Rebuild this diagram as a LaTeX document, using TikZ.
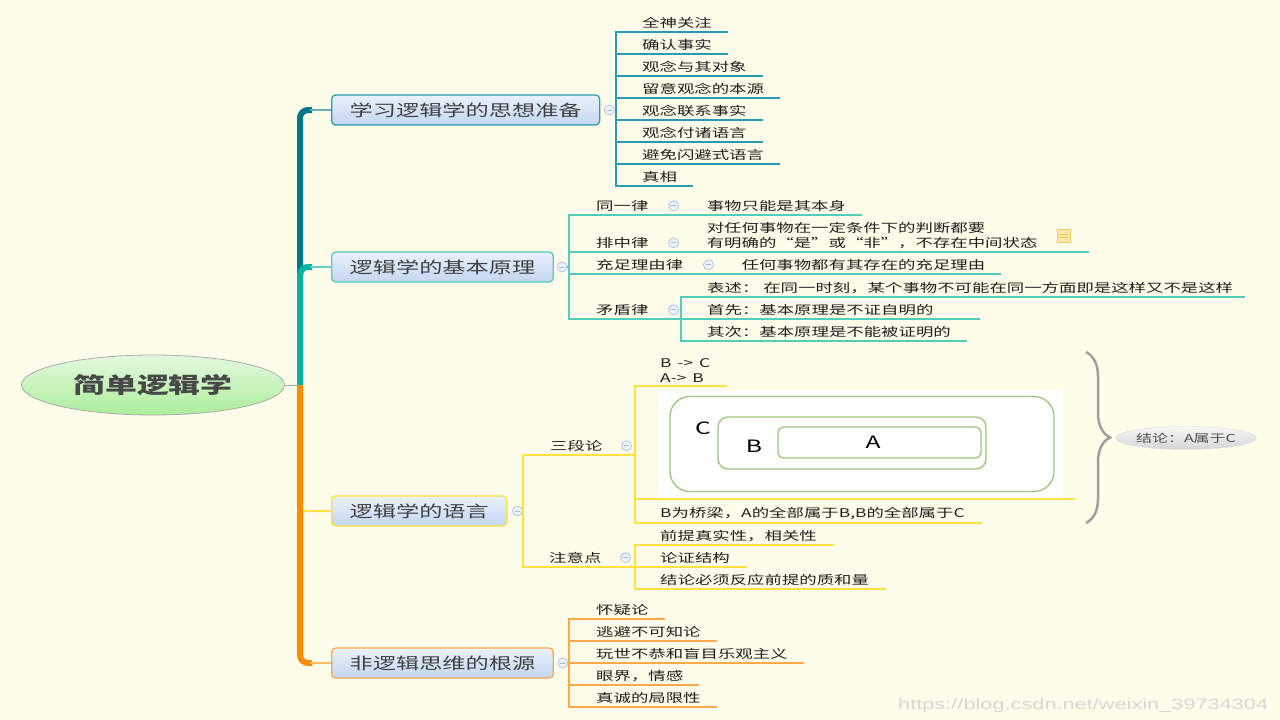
\documentclass[tikz,border=0pt]{standalone}
\usepackage{fontspec}
\setmainfont{Noto Sans CJK SC}[FakeStretch=1.45]
\newfontfamily\wmfont{Liberation Sans}[FakeStretch=1.45]
\usetikzlibrary{shapes.geometric}
\usetikzlibrary{decorations.pathreplacing}

\definecolor{bg}{HTML}{FEFDE9}
\definecolor{tealA}{HTML}{00788A}
\definecolor{tealB}{HTML}{00B39F}
\definecolor{orangeT}{HTML}{FF8C00}
\definecolor{lineA}{HTML}{2A9BB0}
\definecolor{lineB}{HTML}{55CBBA}
\definecolor{lineC}{HTML}{FFE23F}
\definecolor{lineD}{HTML}{FFA94D}
\definecolor{topicTop}{HTML}{EAF2FB}
\definecolor{topicBot}{HTML}{C3D6F0}
\definecolor{rootTop}{HTML}{E6F8E0}
\definecolor{rootBot}{HTML}{ABEE9B}
\definecolor{ink}{HTML}{1E1E1E}
\definecolor{vennG}{HTML}{9CC67E}
\definecolor{foldC}{HTML}{A8B8D8}
\definecolor{noteF}{HTML}{FCE6A6}
\definecolor{noteD}{HTML}{F2C868}
\definecolor{wmark}{HTML}{D6D6D6}

\begin{document}
\begin{tikzpicture}[x=1pt,y=-1pt,
    topic/.style={rounded corners=4pt,line width=1.3pt,top color=topicTop,bottom color=topicBot,
      minimum height=30pt,inner xsep=18pt,anchor=west,text=black!75,font=\fontsize{16}{16}\selectfont},
    leaf/.style={anchor=south west,inner xsep=0pt,inner ysep=3.5pt,align=left,text=ink,
      font=\fontsize{12}{14.5}\selectfont},
    fold/.style={circle,draw=foldC,fill=topicTop,minimum size=10pt,inner sep=0pt,line width=0.6pt,
      path picture={\draw[foldC,line width=0.8pt] ([xshift=-2.5pt]path picture bounding box.center)
        -- ([xshift=2.5pt]path picture bounding box.center);}},
    elbow/.style={to path={|- (\tikztotarget)}},
    trunk/.style={line width=6pt,rounded corners=8pt},
    venn/.style={draw=vennG,line width=1.3pt,inner sep=0pt},
    noteicon/.style={draw=noteD,fill=noteF,minimum width=13pt,minimum height=13pt,inner sep=0pt,
      path picture={\draw[noteD,line width=0.8pt]
        ([xshift=2pt,yshift=1pt]path picture bounding box.west) -- ++(9pt,0)
        ([xshift=2pt,yshift=-2pt]path picture bounding box.west) -- ++(9pt,0);}}]
\fill[bg] (0,0) rectangle (1280,720);
\useasboundingbox (0,0) rectangle (1280,720);

% root and main topics
\node[ellipse,draw=gray!65,line width=0.8pt,top color=rootTop,bottom color=rootBot,
  minimum width=263pt,minimum height=60pt,text=black!72,
  font=\fontsize{22}{22}\selectfont\bfseries] (root) at (153,385) {简单逻辑学};
\node[topic,draw=lineA] (n1) at (331,110) {学习逻辑学的思想准备};
\node[topic,draw=lineB] (n2) at (331,267) {逻辑学的基本原理};
\node[topic,draw=lineC] (n3) at (331,511) {逻辑学的语言};
\node[topic,draw=lineD] (n4) at (331,663) {非逻辑思维的根源};

\node[fold] (f1) at ([xshift=9pt]n1.east) {};
\node[fold] (f2) at ([xshift=8pt]n2.east) {};
\node[fold] (f3) at ([xshift=10pt]n3.east) {};
\node[fold] (f4) at ([xshift=9pt]n4.east) {};

% trunk
\coordinate (j) at (300,385);
\draw[gray!65,line width=1pt] (root.east) -- (j);
\draw[trunk,tealA] (j) |- ([xshift=-19pt]n1.west);
\draw[tealA!60,line width=2pt] ([xshift=-21pt]n1.west) -- (n1.west);
\draw[trunk,tealB] (j) |- ([xshift=-19pt]n2.west);
\draw[tealB!60,line width=2pt] ([xshift=-21pt]n2.west) -- (n2.west);
\draw[lineC,line width=2pt,rounded corners=6pt] (j) |- (n3.west);
\draw[trunk,orangeT] (j) |- ([xshift=-19pt]n4.west);
\draw[orangeT!60,line width=2pt] ([xshift=-21pt]n4.west) -- (n4.west);

% branch 1
\coordinate (v1) at (616,110);
\node[leaf] (q11) at (642,32)  {全神关注};
\node[leaf] (q12) at (642,54)  {确认事实};
\node[leaf] (q13) at (642,76)  {观念与其对象};
\node[leaf] (q14) at (642,98)  {留意观念的本源};
\node[leaf] (q15) at (642,120) {观念联系事实};
\node[leaf] (q16) at (642,142) {观念付诸语言};
\node[leaf] (q17) at (642,164) {避免闪避式语言};
\node[leaf] (q18) at (642,186) {真相};
\path[draw,lineA,line width=1.2pt] (f1) -- (v1)
  (v1) edge[elbow] ([xshift=16pt]q11.south east)
  (v1) edge[elbow] ([xshift=16pt]q12.south east)
  (v1) edge[elbow] ([xshift=16pt]q13.south east)
  (v1) edge[elbow] ([xshift=16pt]q14.south east)
  (v1) edge[elbow] ([xshift=16pt]q15.south east)
  (v1) edge[elbow] ([xshift=16pt]q16.south east)
  (v1) edge[elbow] ([xshift=16pt]q17.south east)
  (v1) edge[elbow] ([xshift=16pt]q18.south east);

% branch 2
\coordinate (v2) at (569,267);
\node[leaf] (s21) at (596,215) {同一律};
\node[fold] (f21) at ([xshift=25pt]s21.east) {};
\node[leaf,xshift=33pt] (t21) at (f21 |- s21.south) {事物只能是其本身};
\node[leaf] (s22) at (596,252) {排中律};
\node[fold] (f22) at ([xshift=25pt]s22.east) {};
\node[leaf,xshift=33pt] (t22) at (f22 |- s22.south) {对任何事物在一定条件下的判断都要\\有明确的“是”或“非”，不存在中间状态};
\node[noteicon] (ic) at ([xshift=26pt]t22.east) {};
\node[leaf] (s23) at (596,274) {充足理由律};
\node[fold] (f23) at ([xshift=25pt]s23.east) {};
\node[leaf,xshift=33pt] (t23) at (f23 |- s23.south) {任何事物都有其存在的充足理由};
\node[leaf] (s24) at (596,319) {矛盾律};
\node[fold] (f24) at ([xshift=25pt]s24.east) {};
\coordinate (w24) at (681,319);
\node[leaf] (t24) at (707,297) {表述：\ 在同一时刻，某个事物不可能在同一方面即是这样又不是这样};
\node[leaf] (t25) at (707,319) {首先：基本原理是不证自明的};
\node[leaf] (t26) at (707,341) {其次：基本原理是不能被证明的};
\path[draw,lineB,line width=1.2pt] (f2) -- (v2)
  (v2) edge[elbow] ([xshift=16pt]t21.south east)
  (v2) edge[elbow] ([xshift=19pt]ic.east |- s22.south)
  (v2) edge[elbow] ([xshift=16pt]t23.south east)
  (v2) edge[elbow] (w24)
  (w24) edge[elbow] ([xshift=12pt]t24.south east)
  (w24) edge[elbow] ([xshift=46pt]t25.south east)
  (w24) edge[elbow] ([xshift=16pt]t26.south east);

% branch 3
\coordinate (v3) at (523,511);
\node[leaf] (s31) at (550,455) {三段论};
\node[fold] (f31) at ([xshift=24pt]s31.east) {};
\coordinate (w31) at (635,455);
\node[leaf] (t31) at (660,386) {B\kern2pt\ ->\ \kern2pt C\\A->\ \kern2pt B};
\node[fill=white,minimum width=403pt,minimum height=109pt,inner sep=0pt,anchor=south west] (img) at (659,499) {};
\node[leaf] (t33) at (660,523) {B为桥梁，A的全部属于B,B的全部属于C};
\node[venn,rounded corners=20pt,minimum width=384pt,minimum height=95pt] (gC) at (862,444) {};
\node[venn,rounded corners=10pt,minimum width=268pt,minimum height=52pt] (gB) at (852,443) {};
\node[venn,rounded corners=6pt,minimum width=203pt,minimum height=31pt] (gA) at (879.5,442.5) {};
\node[font=\fontsize{17}{17}\selectfont] (lC) at (703,428) {C};
\node[font=\fontsize{17}{17}\selectfont] (lB) at (754,446) {B};
\node[font=\fontsize{17}{17}\selectfont] (lA) at (873,442) {A};
\node[leaf] (s32) at (549,567) {注意点};
\node[fold] (f32) at ([xshift=24pt]s32.east) {};
\coordinate (w32) at (635,567);
\node[leaf] (t34) at (660,545) {前提真实性，相关性};
\node[leaf] (t35) at (660,567) {论证结构};
\node[leaf] (t36) at (660,589) {结论必须反应前提的质和量};
\path[draw,lineC,line width=1.2pt] (f3) -- (v3)
  (v3) edge[elbow] (w31)
  (v3) edge[elbow] (w32)
  (w31) edge[elbow] ([xshift=17pt]t31.south east)
  (w31) edge[elbow] ([xshift=13pt]img.south east)
  (w31) edge[elbow] ([xshift=17pt]t33.south east)
  (w32) edge[elbow] ([xshift=17pt]t34.south east)
  (w32) edge[elbow] ([xshift=17pt]t35.south east)
  (w32) edge[elbow] ([xshift=17pt]t36.south east);

% summary brace
\coordinate (br1) at (1086,352);
\coordinate (br2) at (1086,523);
\draw[gray!75,line width=2.5pt,decorate,decoration={brace,amplitude=24pt}] (br1) -- (br2);
\node[ellipse,draw=gray!25,top color=gray!6,bottom color=gray!32,minimum width=133pt,
  minimum height=23pt,inner sep=0pt,text=black!70,font=\fontsize{11}{11}\selectfont] (sum) at (1186,438) {结论：A属于C};

% branch 4
\coordinate (v4) at (569,663);
\node[leaf] (q41) at (596,619) {怀疑论};
\node[leaf] (q42) at (596,641) {逃避不可知论};
\node[leaf] (q43) at (596,663) {玩世不恭和盲目乐观主义};
\node[leaf] (q44) at (596,685) {眼界，情感};
\node[leaf] (q45) at (596,707) {真诚的局限性};
\path[draw,lineD,line width=1.2pt] (f4) -- (v4)
  (v4) edge[elbow] ([xshift=16pt]q41.south east)
  (v4) edge[elbow] ([xshift=16pt]q42.south east)
  (v4) edge[elbow] ([xshift=16pt]q43.south east)
  (v4) edge[elbow] ([xshift=16pt]q44.south east)
  (v4) edge[elbow] ([xshift=16pt]q45.south east);

\node[anchor=west,inner sep=0pt,text=wmark,font=\wmfont\fontsize{15}{15}\selectfont] (wm) at (898,706) {https://blog.csdn.net/weixin\_39734304};
\end{tikzpicture}
\end{document}
